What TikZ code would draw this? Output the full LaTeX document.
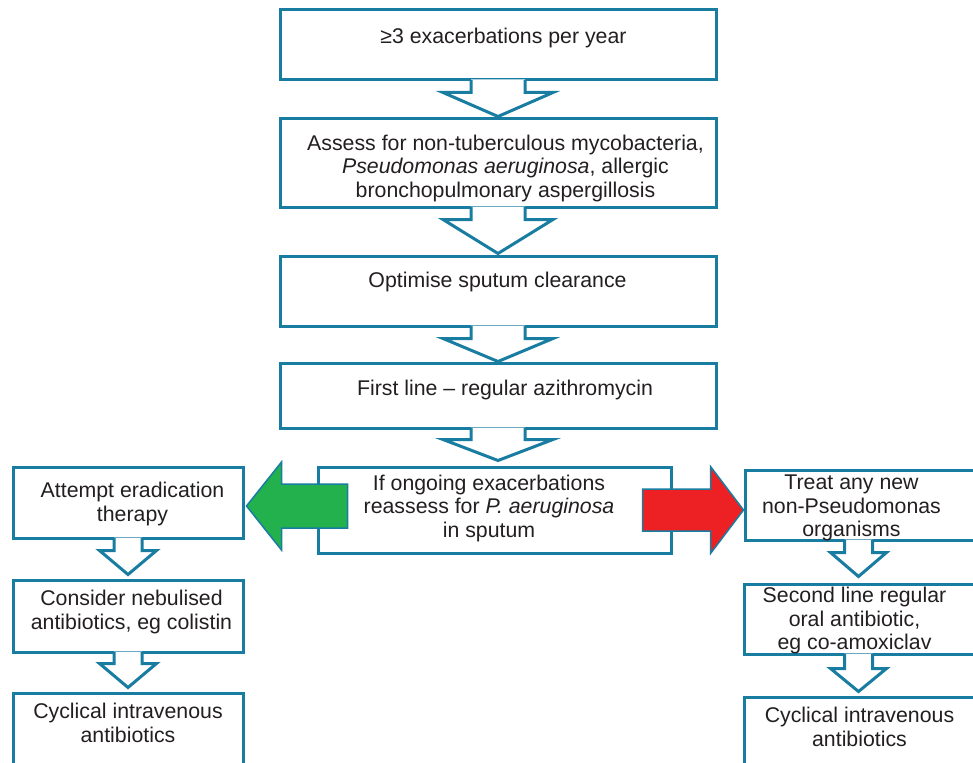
\documentclass[tikz,border=0pt]{standalone}
\usepackage{fontspec}
\setmainfont{Liberation Sans}
\usetikzlibrary{calc}
\definecolor{edge}{RGB}{24,125,160}
\definecolor{ink}{RGB}{35,31,32}
\definecolor{gfill}{RGB}{34,177,76}
\definecolor{rfill}{RGB}{237,32,36}
\newcommand\boxtext[1]{\begin{tabular}[t]{@{}c@{}}#1\end{tabular}}
% #1 start coord (box bottom), #2 target node anchor, #3 shaft length, #4 shaft half, #5 head half, #6 tip offset
\newcommand\hollowarrow[6]{%
  \fill[white] ($(#1)+(-#4,-2)$) -- ($(#1)+(-#4,#3)$) -- ($(#1)+(-#5,#3)$) -- ($(#1 |- #2)+(0,#6)$) -- ($(#1)+(#5,#3)$) -- ($(#1)+(#4,#3)$) -- ($(#1)+(#4,-2)$) -- cycle;
  \draw[hollowline] ($(#1)+(-#4,-1.5)$) -- ($(#1)+(-#4,#3)$) -- ($(#1)+(-#5,#3)$) -- ($(#1 |- #2)+(0,#6)$) -- ($(#1)+(#5,#3)$) -- ($(#1)+(#4,#3)$) -- ($(#1)+(#4,-1.5)$);
}
\begin{document}
\begin{tikzpicture}[x=1pt,y=-1pt,
  flowbox/.style={draw=edge, line width=3pt, fill=white, rectangle, inner sep=0pt},
  boxlabel/.style={anchor=base, inner sep=0pt, text=ink, font=\fontsize{21.3}{23.5}\selectfont},
  hollowline/.style={draw=edge, line width=3pt, line join=miter, miter limit=20},
  bigarrow/.style={draw=edge, line width=1.5pt, line join=miter, miter limit=20}]
\useasboundingbox (0,0) rectangle (973,762);
\clip (0,0) rectangle (973,762);
\fill[white] (0,0) rectangle (973,762);

% main column
\node[flowbox, minimum width=436, minimum height=70] (b1) at (498,45) {};
\node[flowbox, minimum width=436, minimum height=88] (b2) at (498,163) {};
\node[flowbox, minimum width=436, minimum height=70] (b3) at (498,291) {};
\node[flowbox, minimum width=436, minimum height=65] (b4) at (498,395.5) {};
\node[flowbox, minimum width=353, minimum height=86] (C) at (494.5,510) {};

% left column
\node[flowbox, minimum width=230, minimum height=71] (L1) at (128,502.5) {};
\node[flowbox, minimum width=230, minimum height=72] (L2) at (128,616) {};
\node[flowbox, minimum width=230, minimum height=107] (L3) at (128,746.5) {};

% right column
\node[flowbox, minimum width=255, minimum height=70] (R1) at (872.5,505) {};
\node[flowbox, minimum width=256, minimum height=70] (R2) at (872,619) {};
\node[flowbox, minimum width=256, minimum height=103] (R3) at (872,748.5) {};

% labels
\node[boxlabel] (t1) at ($(b1.north)+(5.5,35)$) {\boxtext{≥3 exacerbations per year}};
\node[boxlabel] (t2) at ($(b2.north)+(7.5,33)$) {\boxtext{Assess for non-tuberculous mycobacteria,\\ \textit{Pseudomonas aeruginosa}, allergic\\ bronchopulmonary aspergillosis}};
\node[boxlabel] (t3) at ($(b3.north)+(-0.5,33)$) {\boxtext{Optimise sputum clearance}};
\node[boxlabel] (t4) at ($(b4.north)+(7,34)$) {\boxtext{First line – regular azithromycin}};
\node[boxlabel] (tC) at ($(C.north)+(-5.5,24.5)$) {\boxtext{If ongoing exacerbations\\ reassess for \textit{P. aeruginosa}\\ in sputum}};
\node[boxlabel] (tL1) at ($(L1.north)+(4.5,32)$) {\boxtext{Attempt eradication\\ therapy}};
\node[boxlabel] (tL2) at ($(L2.north)+(3.5,27)$) {\boxtext{Consider nebulised\\ antibiotics, eg colistin}};
\node[boxlabel] (tL3) at ($(L3.north)+(0,27)$) {\boxtext{Cyclical intravenous\\ antibiotics}};
\node[boxlabel] (tR1) at ($(R1.north west)+(108,21)$) {\boxtext{Treat any new\\ non-Pseudomonas\\ organisms}};
\node[boxlabel] (tR2) at ($(R2.north west)+(112,20)$) {\boxtext{Second line regular\\ oral antibiotic,\\ eg co-amoxiclav}};
\node[boxlabel] (tR3) at ($(R3.north west)+(117,27)$) {\boxtext{Cyclical intravenous\\ antibiotics}};

% hollow arrows
\hollowarrow{b1.south}{b2.north}{11}{27}{55}{-1}
\hollowarrow{b2.south}{b3.north}{11}{27}{55}{-1}
\hollowarrow{b3.south}{b4.north}{11}{27}{55}{0}
\hollowarrow{b4.south}{C.north}{10}{27}{55}{-5}
\hollowarrow{L1.south}{L2.north}{11}{14}{28.5}{-4}
\hollowarrow{L2.south}{L3.north}{10}{14}{28.5}{-4}
\coordinate (r1s) at ($(R1.south west)+(115,0)$);
\coordinate (r2s) at ($(R2.south west)+(116,0)$);
\hollowarrow{r1s}{R2.north}{11}{14}{28}{-6}
\hollowarrow{r2s}{R3.north}{13}{14}{28}{-4}

% green arrow (to the left)
\coordinate (gt) at ($(L1.east)+(2,3.5)$);
\coordinate (ge) at ($(C.west)+(31,-4)$);
\filldraw[bigarrow, fill=gfill] (gt) -- ($(gt)+(35,-44)$) -- ($(gt)+(35,-22)$) -- ($(ge)+(0,-22)$) -- ($(ge)+(0,22)$) -- ($(gt)+(35,22)$) -- ($(gt)+(35,44)$) -- cycle;

% red arrow (to the right)
\coordinate (rt) at ($(R1.west)+(0,5)$);
\coordinate (rs) at ($(C.east)+(-30,0)$);
\filldraw[bigarrow, fill=rfill] (rt) -- ($(rt)+(-33,-43.5)$) -- ($(rt)+(-33,-21)$) -- ($(rs)+(0,-21)$) -- ($(rs)+(0,21)$) -- ($(rt)+(-33,21)$) -- ($(rt)+(-33,43.5)$) -- cycle;
\end{tikzpicture}
\end{document}
